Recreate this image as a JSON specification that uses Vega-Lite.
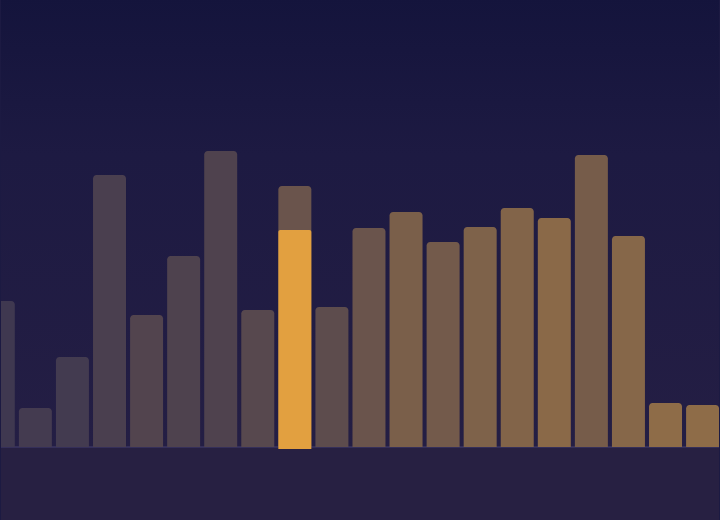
{
  "$schema": "https://vega.github.io/schema/vega-lite/v6.json",
  "width": 720,
  "height": 520,
  "padding": 0,
  "autosize": {"type": "fit", "contains": "padding"},
  "background": "#1c1a42",
  "config": {"view": {"stroke": null}},
  "data": {
    "values": [
      {"i": 0, "value": 146, "tone": 0.0},
      {"i": 1, "value": 39, "tone": 0.06},
      {"i": 2, "value": 90, "tone": 0.05},
      {"i": 3, "value": 272, "tone": 0.14},
      {"i": 4, "value": 132, "tone": 0.24},
      {"i": 5, "value": 191, "tone": 0.19},
      {"i": 6, "value": 296, "tone": 0.2},
      {"i": 7, "value": 137, "tone": 0.3},
      {"i": 8, "value": 261, "tone": 0.54, "current": 217},
      {"i": 9, "value": 140, "tone": 0.38},
      {"i": 10, "value": 219, "tone": 0.54},
      {"i": 11, "value": 235, "tone": 0.75},
      {"i": 12, "value": 205, "tone": 0.66},
      {"i": 13, "value": 220, "tone": 0.8},
      {"i": 14, "value": 239, "tone": 0.85},
      {"i": 15, "value": 229, "tone": 0.95},
      {"i": 16, "value": 292, "tone": 0.7},
      {"i": 17, "value": 211, "tone": 0.9},
      {"i": 18, "value": 44, "tone": 1.0},
      {"i": 19, "value": 42, "tone": 1.0}
    ]
  },
  "layer": [
    {
      "mark": {
        "type": "rect",
        "clip": true,
        "fill": {
          "gradient": "linear",
          "x1": 0, "y1": 0, "x2": 0, "y2": 1,
          "stops": [
            {"offset": 0, "color": "#14143c"},
            {"offset": 0.35, "color": "#1d1a42"},
            {"offset": 1, "color": "#241e44"}
          ]
        }
      },
      "encoding": {
        "x": {"datum": -1, "type": "quantitative", "scale": {"domain": [0.0726, 19.443], "nice": false, "zero": false, "padding": 0}, "axis": null},
        "x2": {"datum": 21},
        "y": {"datum": 0, "type": "quantitative", "scale": {"domain": [-73, 447], "nice": false, "zero": false, "padding": 0}, "axis": null},
        "y2": {"datum": 450}
      }
    },
    {
      "mark": {"type": "rect", "color": "#272042", "clip": true},
      "encoding": {
        "x": {"datum": -1, "type": "quantitative"},
        "x2": {"datum": 21},
        "y": {"datum": -80, "type": "quantitative"},
        "y2": {"datum": 0}
      }
    },
    {
      "mark": {"type": "rule", "color": "#37315a", "strokeWidth": 1},
      "encoding": {
        "y": {"datum": 0, "type": "quantitative"}
      }
    },
    {
      "mark": {
        "type": "bar",
        "width": 33,
        "clip": true,
        "cornerRadiusTopLeft": 3.5,
        "cornerRadiusTopRight": 3.5
      },
      "encoding": {
        "x": {"field": "i", "type": "quantitative"},
        "y": {"field": "value", "type": "quantitative"},
        "y2": {"datum": 0},
        "color": {
          "field": "tone",
          "type": "quantitative",
          "scale": {"domain": [0, 1], "range": ["#3f3850", "#8e6c48"], "interpolate": "rgb"},
          "legend": null
        }
      }
    },
    {
      "transform": [{"filter": "isValid(datum.current)"}],
      "mark": {
        "type": "bar",
        "width": 33,
        "clip": true,
        "color": "#e2a040",
        "cornerRadiusTopLeft": 2,
        "cornerRadiusTopRight": 2
      },
      "encoding": {
        "x": {"field": "i", "type": "quantitative"},
        "y": {"field": "current", "type": "quantitative"},
        "y2": {"datum": -2}
      }
    }
  ]
}
